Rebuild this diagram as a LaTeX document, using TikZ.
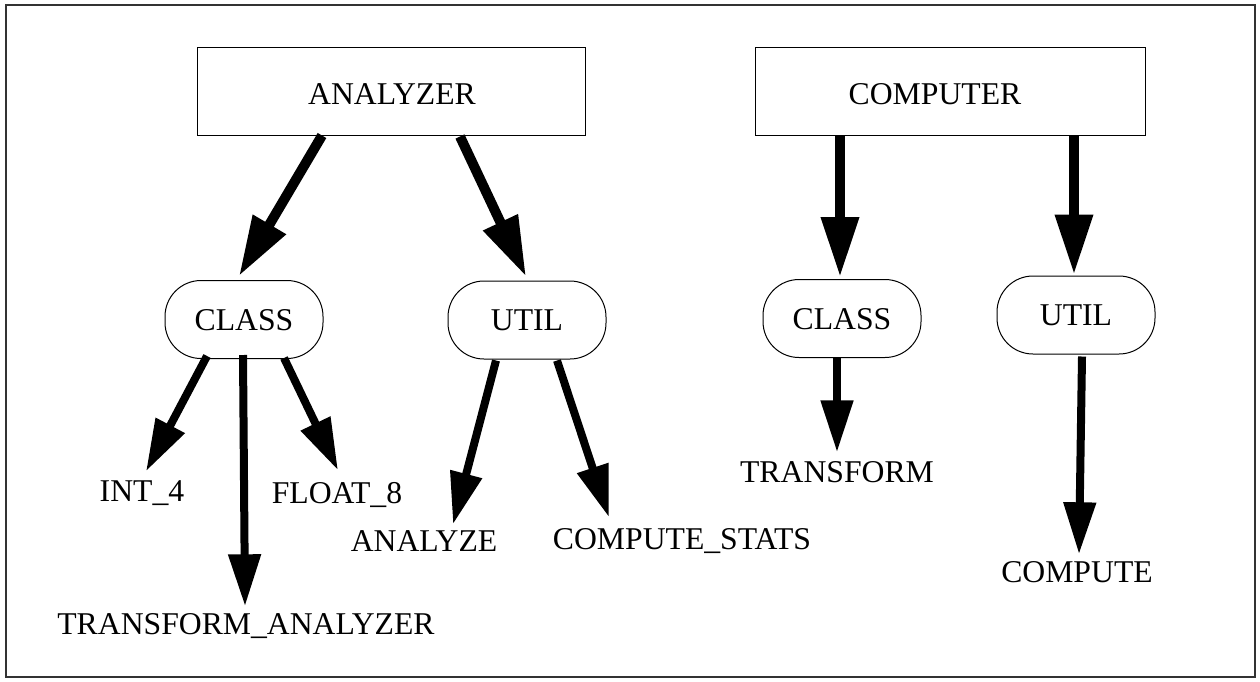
\documentclass[tikz,border=0pt]{standalone}
\usepackage{fontspec}
\setmainfont{Liberation Serif}
\usetikzlibrary{arrows.meta,calc}
\begin{document}
\begin{tikzpicture}[x=1pt,y=-1pt,
  every node/.style={font=\fontsize{31.7}{37}\selectfont},
  topbox/.style={draw=black,line width=1pt,rectangle,minimum width=#1,minimum height=88pt,inner sep=0pt,text height=21pt,text depth=0pt},
  pill/.style={draw=black,line width=1pt,rectangle,rounded corners=36pt,minimum width=158pt,minimum height=78pt,inner sep=0pt,text height=21pt,text depth=0pt},
  leaf/.style={inner sep=0pt,text height=21pt,text depth=0pt},
  bigarr/.style={line width=10pt,-{Triangle[length=60pt,width=36pt]}},
  smallarr/.style={line width=8pt,-{Triangle[length=52pt,width=31pt]}}
]
\useasboundingbox (0,0) rectangle (1260,681);
\draw[line width=1.6pt,draw=black!80] (6,5) rectangle (1255,677);

% top boxes
\node[topbox=388pt] (analyzer) at (391,91) {};
\node[leaf] (analyzerT) at (392,94) {ANALYZER};
\node[topbox=390pt] (computer) at (950,91) {};
\node[leaf] (computerT) at (935,94) {COMPUTER};

% pills
\node[pill] (classL) at (244,319.5) {CLASS};
\node[pill] (utilL) at (527,320) {UTIL};
\node[pill] (classR) at (842,318.5) {CLASS};
\node[pill] (utilR) at (1076,315) {UTIL};

% leaves
\node[leaf] (int4) at (142,491) {INT\_4};
\node[leaf] (float8) at (337,493) {FLOAT\_8};
\node[leaf] (tA) at (246,624) {TRANSFORM\_ANALYZER};
\node[leaf] (analyze) at (424,541) {ANALYZE};
\node[leaf] (cstats) at (682,539) {COMPUTE\_STATS};
\node[leaf] (transform) at (837,472) {TRANSFORM};
\node[leaf] (compute) at (1077,572) {COMPUTE};

% top arrows
\draw[bigarr] ($(analyzer.south)+(-69,0)$) -- ($(classL.north)+(-5,-4)$);
\draw[bigarr] ($(analyzer.south)+(69,1)$) -- ($(utilL.north)+(-1,-4)$);
\draw[bigarr] ($(computer.south)+(-110,0)$) -- ($(classR.north)+(-2,-2)$);
\draw[bigarr] ($(computer.south)+(124,0)$) -- ($(utilR.north)+(-2,-1)$);

% lower arrows
\draw[smallarr] ($(classL.south)+(-37,-3)$) -- ($(int4.north)+(4,-9)$);
\draw[smallarr] ($(classL.south)+(-1,-4)$) -- ($(tA.north)+(-1,-7)$);
\draw[smallarr] ($(classL.south)+(40,-1)$) -- ($(float8.north)+(1,-12)$);
\draw[smallarr] ($(utilL.south)+(-31,1)$) -- ($(analyze.north)+(29,-6)$);
\draw[smallarr] ($(utilL.south)+(30,1)$) -- ($(cstats.north)+(-73,-11)$);
\draw[smallarr] ($(classR.south)+(-5,0)$) -- ($(transform.north)+(0,-9)$);
\draw[smallarr] ($(utilR.south)+(6,2)$) -- ($(compute.north)+(2,-7)$);
\end{tikzpicture}
\end{document}
